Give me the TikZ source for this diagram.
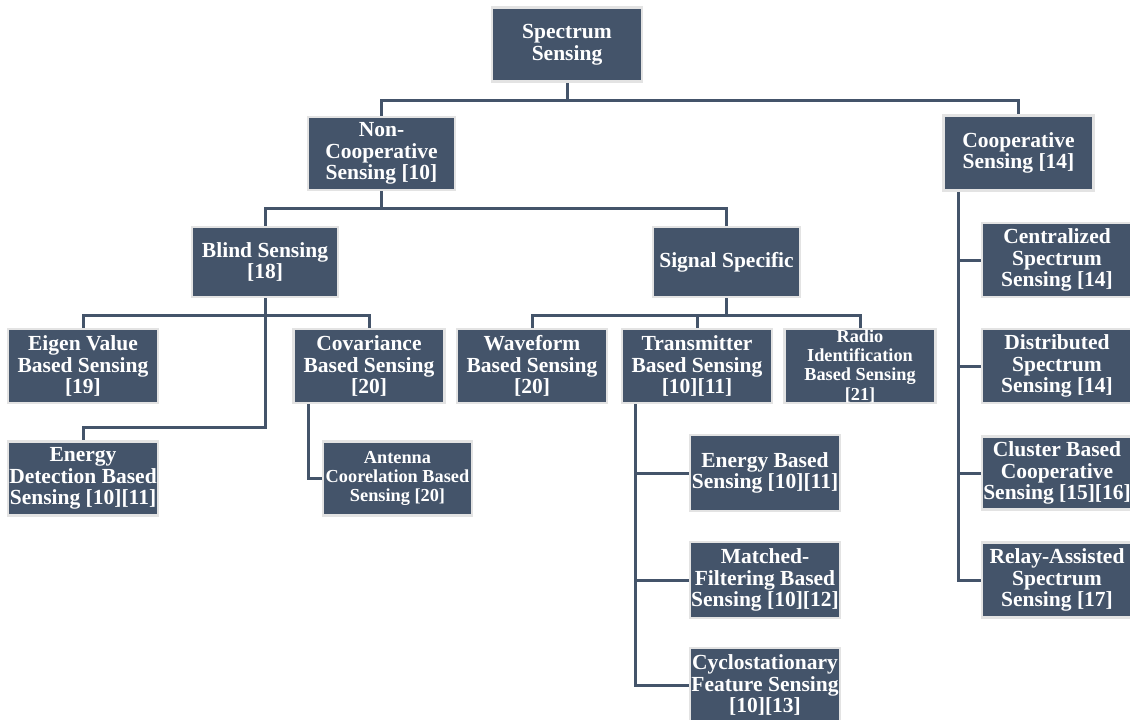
\documentclass[tikz,border=0pt]{standalone}
\usepackage{fontspec}
\setmainfont{Liberation Serif}
\definecolor{boxfill}{HTML}{44546A}
\definecolor{boxline}{HTML}{E3E3E3}
\begin{document}
\begin{tikzpicture}[x=1pt,y=-1pt,
  box/.style={draw=boxline, line width=2.5pt, fill=boxfill, text=white,
    font=\bfseries\fontsize{21.5}{21.7}\selectfont, align=center, inner sep=0pt,
    minimum width=150pt, minimum height=74pt},
  smalltext/.style={font=\bfseries\fontsize{18.3}{19.3}\selectfont},
  conn/.style={draw=boxfill, line width=3pt}]
\useasboundingbox (0,0) rectangle (1130,720);
\fill[white] (0,0) rectangle (1130,720);
% nodes
\node[box] (ss) at (567,44.5) {Spectrum\\Sensing};
\node[box, minimum width=147pt, minimum height=73pt] (nc) at (381.5,153.5) {Non-\\Cooperative\\Sensing [10]};
\node[box, minimum height=75pt] (cs) at (1018.5,153) {Cooperative\\Sensing [14]};
\node[box, minimum width=146pt, minimum height=70pt] (bs) at (265,262) {Blind Sensing\\{}[18]};
\node[box, minimum width=147pt, minimum height=70pt] (sp) at (726.5,262) {Signal Specific};
\node[box] (ev) at (83,366) {Eigen Value\\Based Sensing\\{}[19]};
\node[box, minimum width=151pt] (cv) at (369,366) {Covariance\\Based Sensing\\{}[20]};
\node[box] (ed) at (83,478.5) {Energy\\Detection Based\\Sensing [10][11]};
\node[box, smalltext, minimum width=149pt] (an) at (397.5,478.5) {Antenna\\Coorelation Based\\Sensing [20]};
\node[box] (wf) at (532,366) {Waveform\\Based Sensing\\{}[20]};
\node[box] (tr) at (697,366) {Transmitter\\Based Sensing\\{}[10][11]};
\node[box, smalltext, minimum width=151pt] (ri) at (860,366) {Radio\\Identification\\Based Sensing\\{}[21]};
\node[box, minimum height=76pt] (eb) at (765,473) {Energy Based\\Sensing [10][11]};
\node[box, minimum height=76pt] (mf) at (765,580) {Matched-\\Filtering Based\\Sensing [10][12]};
\node[box] (cy) at (765,685) {Cyclostationary\\Feature Sensing\\{}[10][13]};
\node[box] (ce) at (1057,260) {Centralized\\Spectrum\\Sensing [14]};
\node[box] (di) at (1057,366) {Distributed\\Spectrum\\Sensing [14]};
\node[box, minimum height=73pt] (cl) at (1057,473) {Cluster Based\\Cooperative\\Sensing [15][16]};
\node[box, minimum height=75pt] (re) at (1057,580) {Relay-Assisted\\Spectrum\\Sensing [17]};
% connectors
\draw[conn] (ss.south) -- ++(0,18) coordinate (j1);
\draw[conn] (nc.north) |- (j1) -| (cs.north);
\draw[conn] (nc.south) -- ++(0,17) coordinate (j2);
\draw[conn] (bs.north) |- (j2) -| (sp.north);
\draw[conn] (bs.south) -- ++(0,17) coordinate (j3);
\draw[conn] (ev.north) |- (j3) -| (cv.north);
\draw[conn] (j3) -- ++(0,112) -| (ed.north);
\draw[conn] ([xshift=16pt]cv.south west) |- (an.west);
\draw[conn] (sp.south) -- ++(0,17) coordinate (j4);
\draw[conn] (wf.north) |- (j4) -| (ri.north);
\draw[conn] (tr.north) -- (tr.north |- j4);
\coordinate (t0) at ([xshift=15pt]tr.south west);
\draw[conn] (t0) |- (cy.west);
\draw[conn] (t0 |- eb.west) -- (eb.west);
\draw[conn] (t0 |- mf.west) -- (mf.west);
\coordinate (c0) at ([xshift=16pt]cs.south west);
\draw[conn] (c0) |- (re.west);
\draw[conn] (c0 |- ce.west) -- (ce.west);
\draw[conn] (c0 |- di.west) -- (di.west);
\draw[conn] (c0 |- cl.west) -- (cl.west);
\end{tikzpicture}
\end{document}
